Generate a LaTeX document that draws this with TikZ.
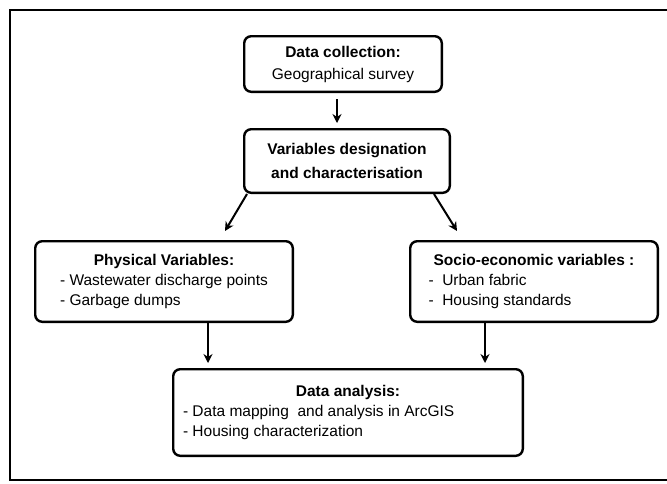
\documentclass[tikz,border=0pt]{standalone}
\usepackage{fontspec}
\setmainfont{Liberation Sans}
\usetikzlibrary{arrows.meta}

\newcommand{\boxhead}[2]{\multicolumn{1}{@{}c@{}}{\makebox[#1]{\bfseries #2}}}

\begin{document}
\begin{tikzpicture}[x=1pt,y=1pt,
  stagebox/.style={draw, line width=2.4pt, rounded corners=7pt, inner sep=0pt,
    align=center, font=\fontsize{15.5}{20}\selectfont},
  flow/.style={line width=2pt, -{Stealth[length=9pt,width=9pt]}}]
\useasboundingbox (0,0) rectangle (667,-483);
\draw[line width=2pt] (10,-10) rectangle (690,-480);

% stages
\node[stagebox, minimum width=197.6pt, minimum height=55.6pt] (collect) at (343,-64)
  {\textbf{Data collection:}\\[2pt]Geographical survey};
\node[stagebox, minimum width=205.6pt, minimum height=63.6pt] (vars) at (347,-161)
  {\textbf{Variables designation}\\[4pt]\textbf{and characterisation}};
\node[stagebox, minimum width=257.6pt, minimum height=80.6pt] (phys) at (164,-281.5)
  {\begin{tabular}{@{}l@{}}\boxhead{202pt}{Physical Variables:}\\
   - Wastewater discharge points\\ - Garbage dumps\end{tabular}};
\node[stagebox, minimum width=247.6pt, minimum height=80.6pt] (socio) at (534,-281.5)
  {\begin{tabular}{@{}l@{}}\boxhead{211pt}{Socio-economic variables :}\\
   - \ Urban fabric\\ - \ Housing standards\end{tabular}};
\node[stagebox, minimum width=349.6pt, minimum height=86.6pt] (ana) at (348,-412.5)
  {\begin{tabular}{@{}l@{}}\boxhead{330pt}{Data analysis:}\\
   - Data mapping\ \ and analysis in ArcGIS\\ - Housing characterization\end{tabular}};

% links
\draw[flow, shorten <=6pt, shorten >=5pt] ([xshift=-6pt]collect.south) -- ([xshift=-6pt]collect.south |- vars.north);
\draw[flow] ([xshift=4pt]vars.south west) -- ([shift={(61pt,9pt)}]phys.north);
\draw[flow] ([xshift=-17pt]vars.south east) -- ([shift={(-77pt,9pt)}]socio.north);
\draw[flow, shorten >=5pt] ([xshift=44pt]phys.south) -- ([xshift=44pt]phys.south |- ana.north);
\draw[flow, line width=2.6pt, shorten >=5pt] ([xshift=-49pt]socio.south) -- ([xshift=-49pt]socio.south |- ana.north);
\end{tikzpicture}
\end{document}
